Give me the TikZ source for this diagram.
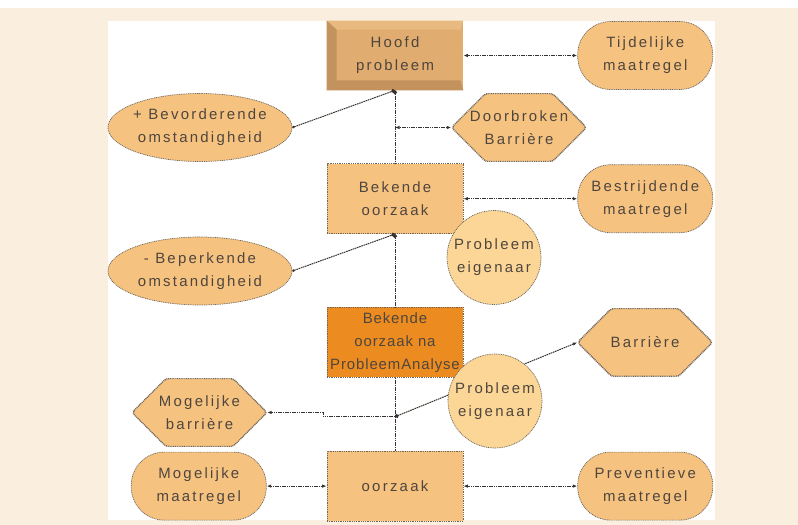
\documentclass[tikz,border=0pt]{standalone}
\usepackage{fontspec}
\setmainfont{Liberation Sans}
\newfontfamily\diafont[LetterSpace=15]{Liberation Sans}
\newfontfamily\smaldiafont[LetterSpace=6]{Liberation Sans}
\usetikzlibrary{positioning,shapes.geometric,arrows.meta,calc}

\definecolor{achtergrond}{RGB}{250,238,223}
\definecolor{blokoranje}{RGB}{246,194,128}
\definecolor{cirkelgeel}{RGB}{252,214,150}
\definecolor{hoofdtan}{RGB}{224,172,112}
\definecolor{hoofdlicht}{RGB}{232,186,128}
\definecolor{hoofddonker}{RGB}{196,146,92}
\definecolor{naoranje}{RGB}{236,140,32}
\definecolor{randgrijs}{RGB}{110,100,90}
\definecolor{lijngrijs}{RGB}{55,50,45}
\definecolor{tekstgrijs}{RGB}{78,70,62}

\begin{document}
\begin{tikzpicture}[x=1bp, y=-1bp, node distance=73bp and 114bp, >={Latex[length=4.5bp,width=3.5bp]},
  font=\diafont\fontsize{15}{23}\selectfont]
\tikzstyle{rand} = [draw=randgrijs, line width=0.7bp, dash pattern=on 1bp off 0.8bp, text=tekstgrijs, align=center, inner sep=0pt]
\tikzstyle{oorzaakblok} = [rand, rectangle, fill=blokoranje, minimum width=136bp, minimum height=70bp]
\tikzstyle{maatregel} = [rand, rectangle, rounded corners=33bp, fill=blokoranje, minimum width=135bp, minimum height=68bp]
\tikzstyle{barrierevorm} = [rectangle, text=tekstgrijs, align=center, inner sep=0pt, minimum width=135bp, minimum height=68bp,
  path picture={\path[fill=blokoranje, draw=randgrijs, line width=1.4bp, dash pattern=on 1bp off 0.8bp, rounded corners=3bp]
    (path picture bounding box.west) -- ([xshift=34bp]path picture bounding box.north west)
    -- ([xshift=-34bp]path picture bounding box.north east) -- (path picture bounding box.east)
    -- ([xshift=-34bp]path picture bounding box.south east) -- ([xshift=34bp]path picture bounding box.south west) -- cycle;}]
\tikzstyle{omstandigheid} = [rand, ellipse, fill=blokoranje, inner xsep=-3bp, minimum width=184bp, minimum height=68bp]
\tikzstyle{eigenaar} = [rand, circle, fill=cirkelgeel, minimum size=94bp]
\tikzstyle{verbinding} = [draw=lijngrijs, line width=1bp, dash pattern=on 1.6bp off 0.7bp]
\tikzstyle{stip} = [{Circle[length=4bp]}-]

% achtergrond en wit vlak
\useasboundingbox (0,0) rectangle (798,525);
\fill[achtergrond] (0,0) rectangle (798,525);
\fill[white] (0,0) rectangle (798,8);
\fill[white] (108,21) rectangle (715,520);

% middenkolom
\node [oorzaakblok, draw=none, fill=hoofdtan, minimum height=69bp] (hoofd) at (395,55.5) {};
\fill[hoofdlicht] (hoofd.north west) -- (hoofd.north east) -- ++(-3,9) -- ($(hoofd.north west)+(10,9)$) -- cycle;
\fill[hoofddonker] (hoofd.north west) -- ++(10,9) -- ($(hoofd.south west)+(10,-10)$) -- (hoofd.south west) -- cycle;
\fill[hoofddonker] (hoofd.south west) -- ++(10,-10) -- ($(hoofd.south east)+(-3,-10)$) -- (hoofd.south east) -- cycle;
\node [text=tekstgrijs, align=center] at (hoofd) {Hoofd\\probleem};
\node [oorzaakblok, below=of hoofd] (bekend) {Bekende\\oorzaak};
\node [oorzaakblok, fill=naoranje, below=of bekend, font=\smaldiafont\fontsize{15}{23}\selectfont] (bekendna) {Bekende\\oorzaak na\\ProbleemAnalyse};
\node [oorzaakblok, below=of bekendna] (oorzaak) {oorzaak};

% rechterkolom
\node [maatregel, right=of hoofd] (tijdelijk) {Tijdelijke\\maatregel};
\node [maatregel, right=of bekend] (bestrijd) {Bestrijdende\\maatregel};
\node [barrierevorm, right=of bekendna] (barriere) {Barri\`ere};
\node [maatregel, right=of oorzaak] (prevent) {Preventieve\\maatregel};
\node [barrierevorm] (doorbr) at (519,127.5) {Doorbroken\\Barri\`ere};

% linkerkolom
\node [omstandigheid] (bevord) at (200,127.5) {+ Bevorderende\\omstandigheid};
\node [omstandigheid] (beperk) at (200,271) {- Beperkende\\omstandigheid};
\node [barrierevorm] (mogbar) at (199.5,412.5) {Mogelijke\\barri\`ere};
\node [maatregel, left=60bp of oorzaak] (mogmaat) {Mogelijke\\maatregel};

% verbindingen
\coordinate (knoop) at ($(bekendna.south)+(0,39)$);
\draw [verbinding, <->] (tijdelijk.west) -- (hoofd.east);
\draw [verbinding, stip] (hoofd.south) -- (bekend.north);
\draw [verbinding, stip] (bekend.south) -- (bekendna.north);
\draw [verbinding] (bekendna.south) -- (oorzaak.north);
\draw [verbinding, {Circle[length=2.5bp]}-{Circle[length=4bp]}] (bevord.east) -- (hoofd.south);
\draw [verbinding, <->] (doorbr.west) -- (hoofd.south |- doorbr.west);
\draw [verbinding, <->] (bestrijd.west) -- (bekend.east);
\draw [verbinding, {Circle[length=2.5bp]}-{Circle[length=4bp]}] (beperk.east) -- (bekend.south);
\draw [verbinding, <-{Circle[length=4bp]}] (barriere.west) -- (knoop);
\draw [verbinding, <-] (mogbar.east) -| ($(knoop)+(-72,0)$) -- (knoop);
\draw [verbinding, <->] (oorzaak.west) -- (mogmaat.east);
\draw [verbinding, <->] (prevent.west) -- (oorzaak.east);

% probleemeigenaars liggen erbovenop
\node [eigenaar] (eigen1) at (494,257.5) {Probleem\\eigenaar};
\node [eigenaar] (eigen2) at (495,401) {Probleem\\eigenaar};
\end{tikzpicture}
\end{document}
